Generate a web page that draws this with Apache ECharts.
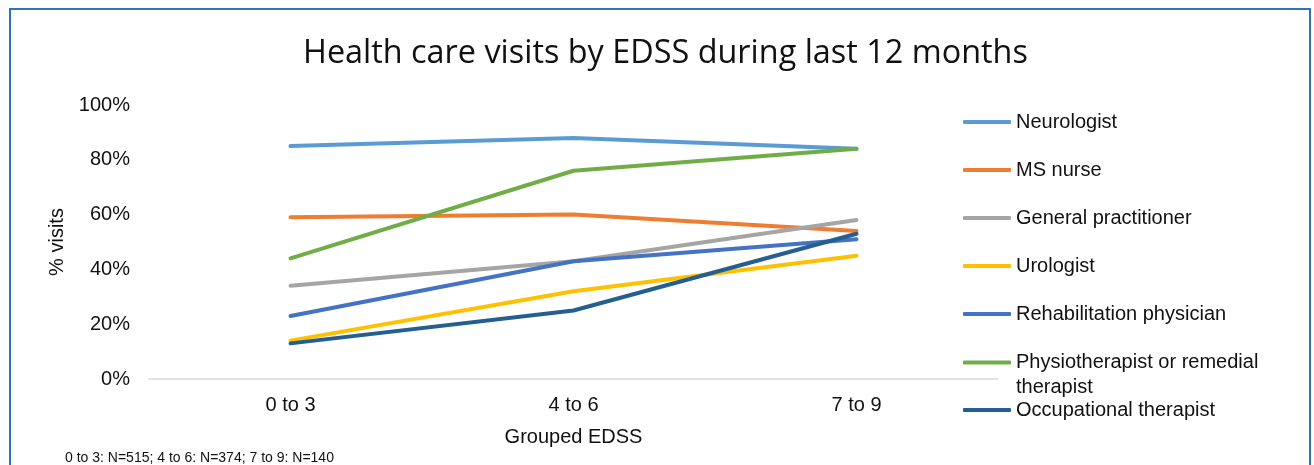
<!DOCTYPE html>
<html>
<head>
<meta charset="utf-8">
<script src="https://cdn.jsdelivr.net/npm/echarts@6/dist/echarts.min.js"></script>
<style>
  html, body { margin: 0; padding: 0; background: #fff; }
  #chart { width: 1314px; height: 465px; }
</style>
</head>
<body>
<div id="chart"></div>
<script>
// grouped EDSS categories
const categories = ['0 to 3', '4 to 6', '7 to 9'];

// % of patients with a visit
const neurologist = [85, 88, 84];
const msNurse = [59, 60, 54];
const generalPractitioner = [34, 43, 58];
const urologist = [14, 32, 45];
const rehabPhysician = [23, 43, 51];
const physiotherapist = [44, 76, 84];
const occupationalTherapist = [13, 25, 53];

const seriesDefs = [
  { name: 'Neurologist', data: neurologist, color: '#5B9BD5' },
  { name: 'MS nurse', data: msNurse, color: '#ED7D31' },
  { name: 'General practitioner', data: generalPractitioner, color: '#A5A5A5' },
  { name: 'Urologist', data: urologist, color: '#FFC000' },
  { name: 'Rehabilitation physician', data: rehabPhysician, color: '#4472C4' },
  { name: 'Physiotherapist or remedial therapist', data: physiotherapist, color: '#70AD47' },
  { name: 'Occupational therapist', data: occupationalTherapist, color: '#255E91' },
];

const chart = echarts.init(document.getElementById('chart'));
const textFont = '"Liberation Sans", Arial, sans-serif';

// shared legend look; the legend is split in two so the wrapped label
// doesn't push the last entry down
const legendBase = {
  orient: 'vertical',
  left: 958,
  itemGap: 24,
  itemWidth: 48,
  itemHeight: 4,
  icon: 'roundRect',
  textStyle: {
    fontFamily: textFont,
    fontSize: 20,
    lineHeight: 24,
    color: '#111',
    rich: {
      first: { fontFamily: textFont, fontSize: 20, lineHeight: 24, color: '#111' },
      second: {
        fontFamily: textFont, fontSize: 20, lineHeight: 1, verticalAlign: 'top', padding: [3, 0, 0, 0], color: '#111',
      },
    },
  },
  formatter(name) {
    if (name.startsWith('Physio')) {
      return '{first|Physiotherapist or remedial}\n{second|therapist}';
    }
    return name;
  },
};

const option = {
  animation: false,
  backgroundColor: '#fff',
  title: [
    {
      text: 'Health care visits by EDSS during last 12 months',
      left: 303,
      top: 38,
      padding: 0,
      textStyle: {
        fontFamily: '"Open Sans", "Noto Sans", sans-serif',
        fontWeight: 'normal',
        fontSize: 32.4,
        color: '#111',
      },
    },
    {
      text: '0 to 3: N=515; 4 to 6: N=374; 7 to 9: N=140',
      left: 65,
      top: 451,
      padding: 0,
      textStyle: {
        fontFamily: textFont,
        fontWeight: 'normal',
        fontSize: 14,
        color: '#111',
      },
    },
  ],
  graphic: [
    {
      type: 'rect',
      shape: { x: 10, y: 9, width: 1300, height: 480 },
      style: { fill: 'none', stroke: '#2E75B6', lineWidth: 2 },
      silent: true,
    },
  ],
  legend: [
    Object.assign({}, legendBase, { top: 105, data: seriesDefs.slice(0, 6).map((s) => s.name) }),
    Object.assign({}, legendBase, { top: 393, data: seriesDefs.slice(6).map((s) => s.name) }),
  ],
  grid: {
    left: 149,
    right: 316,
    top: 105,
    bottom: 86,
  },
  xAxis: {
    type: 'category',
    data: categories,
    boundaryGap: true,
    name: 'Grouped EDSS',
    nameLocation: 'middle',
    nameGap: 48,
    nameTextStyle: { fontFamily: textFont, fontSize: 20, color: '#111' },
    axisTick: { show: false },
    axisLine: { lineStyle: { color: '#D9D9D9', width: 1.5 } },
    axisLabel: { fontFamily: textFont, fontSize: 20, color: '#111', margin: 16 },
  },
  yAxis: {
    type: 'value',
    min: 0,
    max: 100,
    interval: 20,
    name: '% visits',
    nameLocation: 'middle',
    nameGap: 80,
    nameTextStyle: { fontFamily: textFont, fontSize: 20, color: '#111' },
    splitLine: { show: false },
    axisLine: { show: false },
    axisTick: { show: false },
    axisLabel: {
      fontFamily: textFont,
      fontSize: 20,
      color: '#111',
      margin: 19,
      formatter: '{value}%',
    },
  },
  series: seriesDefs.map((s) => ({
    name: s.name,
    type: 'line',
    data: s.data,
    symbol: 'none',
    color: s.color,
    lineStyle: { width: 4, color: s.color, cap: 'round', join: 'round' },
  })),
};

chart.setOption(option);
</script>
</body>
</html>
